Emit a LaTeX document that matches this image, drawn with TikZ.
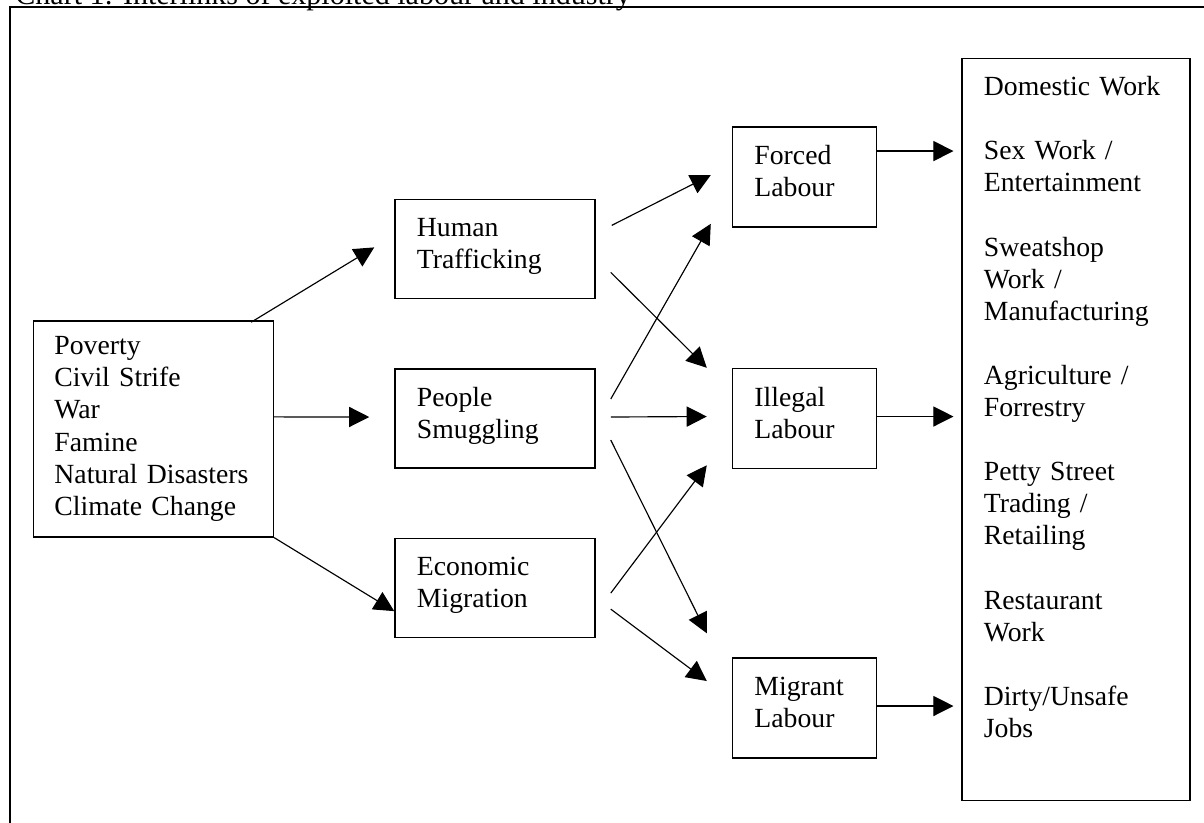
\documentclass[tikz,border=0pt]{standalone}
\usepackage{fontspec}
\setmainfont{Liberation Serif}
\usetikzlibrary{positioning,calc,arrows.meta}

\tikzset{
    box/.style={draw, line width=0.65pt, rectangle, align=left, inner xsep=9.5pt,
        font=\fontsize{12}{13.9}\selectfont},
    midbox/.style={box, text width=67.6pt, minimum width=86.6pt, minimum height=42.9pt, text depth=19pt},
    labbox/.style={box, text width=43.4pt, minimum width=62.4pt, minimum height=43.3pt, text depth=19pt},
    arr/.style={-{Triangle[length=8.7pt,width=8.7pt]}, line width=0.5pt},
}

\begin{document}
\begin{tikzpicture}[x=0.433pt, y=-0.433pt]
    \useasboundingbox (0,0) rectangle (1204,822);
    \clip (0,0) rectangle (1204,822);

    % frame and caption
    \draw[line width=1pt] (10,7) rectangle (1240,860);
    \node[anchor=base west, inner sep=0, font=\fontsize{13}{15}\selectfont] (title) at (15,4.5)
        {Chart 1: Interlinks of exploited labour and industry};

    \node[midbox] (smuggling) at (495,418.5) {People\\Smuggling};
    \node[midbox, above=29.9pt of smuggling] (trafficking) {Human\\Trafficking};
    \node[midbox, below=29.9pt of smuggling] (migration) {Economic\\Migration};
    \node[box, text width=85.7pt, inner xsep=9.1pt, minimum width=103.9pt, minimum height=93.5pt,
        left=52pt of smuggling, yshift=-4.5pt] (causes)
        {Poverty\\Civil Strife\\War\\Famine\\Natural Disasters\\Climate Change};

    \node[labbox, right=58.9pt of smuggling] (illegal) {Illegal\\Labour};
    \node[labbox, above=60.6pt of illegal] (forced) {Forced\\Labour};
    \node[labbox, below=81.4pt of illegal] (migrant) {Migrant\\Labour};

    \node[draw, line width=0.65pt, minimum width=98.7pt, minimum height=321.3pt,
        right=36.4pt of illegal, yshift=-4.8pt] (industry) {};
    \node[anchor=north west, align=left, text width=80pt, inner sep=0, font=\fontsize{12}{13.9}\selectfont] (jobs)
        at ($(industry.north west)+(22,18)$)
        {Domestic Work\\[13.9pt]Sex Work /\\Entertainment\\[13.9pt]Sweatshop\\Work /\\Manufacturing\\[13.9pt]%
         Agriculture /\\Forrestry\\[13.9pt]Petty Street\\Trading /\\Retailing\\[13.9pt]%
         Restaurant\\Work\\[13.9pt]Dirty/Unsafe\\Jobs};

    % causes
    \draw[arr] ($(causes.north east)+(-23,2)$) -- ($(trafficking.west)+(-20,-1.5)$);
    \draw[arr] ($(causes.east)+(0,-12)$) -- ($(smuggling.west)+(-25,-1.5)$);
    \draw[arr] (causes.south east) -- ($(migration.west)+(0,23)$);

    % routes into labour
    \draw[arr] ($(trafficking.east)+(16,-23.5)$) -- ($(forced.west)+(-21,-2)$);
    \draw[arr] ($(trafficking.east)+(15,23.5)$) -- ($(illegal.north west)+(-25,0)$);
    \draw[arr] ($(smuggling.east)+(15,-19.5)$) -- ($(forced.south west)+(-21,-4)$);
    \draw[arr] ($(smuggling.east)+(15,-1.5)$) -- ($(illegal.west)+(-25,-2)$);
    \draw[arr] ($(smuggling.east)+(15,21.5)$) -- ($(migrant.north west)+(-25,-24)$);
    \draw[arr] ($(migration.east)+(15,5)$) -- ($(illegal.south west)+(-25,-4)$);
    \draw[arr] ($(migration.east)+(15,21)$) -- ($(migrant.west)+(-25,-27)$);

    % labour into industry
    \draw[arr] ($(forced.east)+(0,-26)$) -- ($(forced.east -| industry.west)+(-8,-26)$);
    \draw[arr] ($(illegal.east)+(0,-2)$) -- ($(illegal.east -| industry.west)+(-8,-2)$);
    \draw[arr] ($(migrant.east)+(0,-2)$) -- ($(migrant.east -| industry.west)+(-8,-2)$);
\end{tikzpicture}
\end{document}
